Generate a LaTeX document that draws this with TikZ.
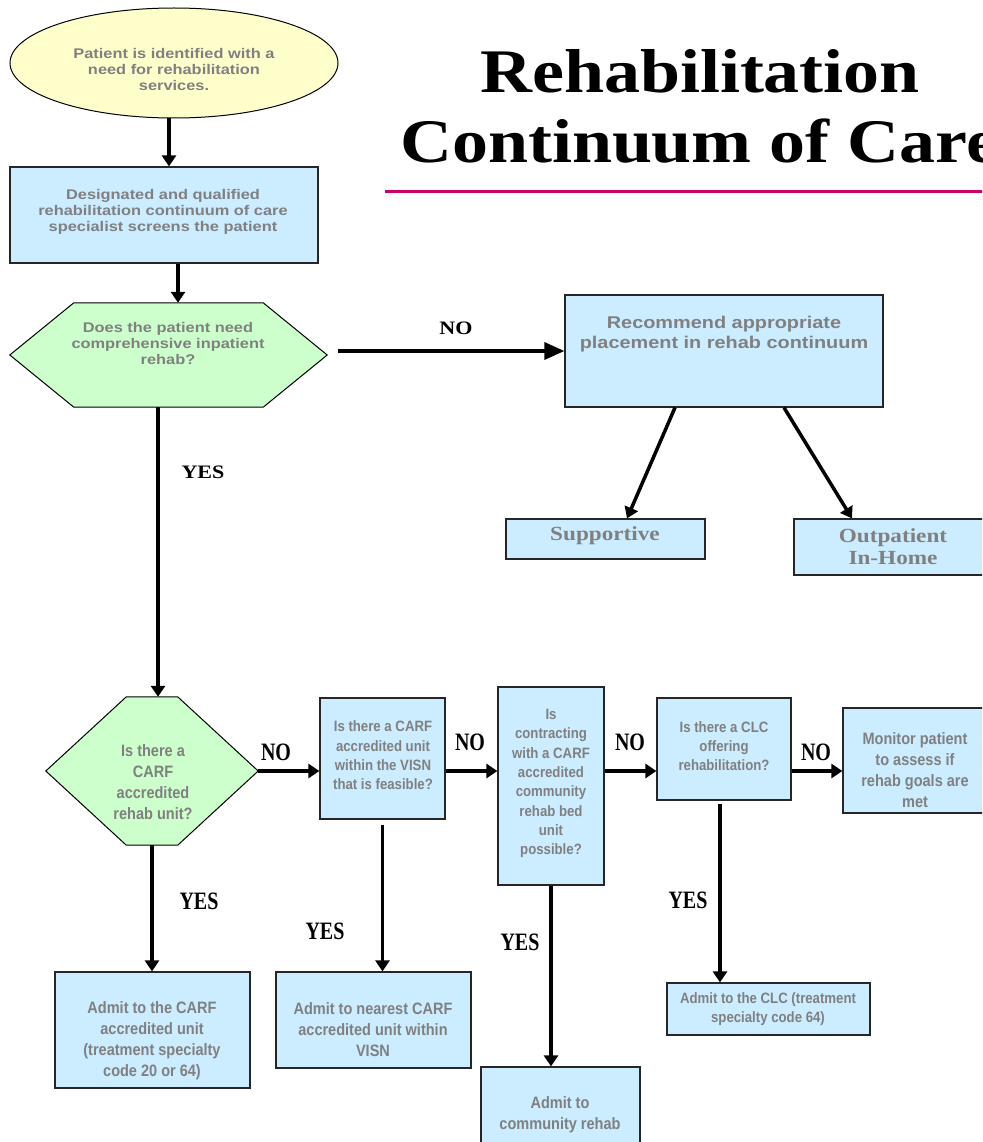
\documentclass[tikz,border=0pt]{standalone}
\usepackage{fontspec}
\usetikzlibrary{arrows.meta,shapes.geometric,calc}
\newfontfamily\wsans[FakeStretch=1.17]{Liberation Sans}
\newfontfamily\nsans[FakeStretch=0.88]{Liberation Sans}
\newfontfamily\wserif[FakeStretch=1.16]{Liberation Serif}
\newfontfamily\nserif[FakeStretch=0.8]{Liberation Serif}
\definecolor{boxblue}{HTML}{CCECFF}
\definecolor{hexgreen}{HTML}{CCFFCC}
\definecolor{ellyellow}{HTML}{FFFFCC}
\definecolor{txtgray}{HTML}{808080}
\definecolor{rulepink}{HTML}{CC0066}
\tikzset{
  box/.style={draw=black!85, line width=1.2pt, fill=boxblue, inner sep=0pt},
  shapebox/.style={inner sep=0pt},
  hexshape/.style={draw=black, line width=1pt, fill=hexgreen},
  txt/.style={inner sep=0pt, align=center, text=txtgray},
  toptxt/.style={txt, font=\wsans\bfseries\fontsize{14}{16}\selectfont},
  midtxt/.style={txt, font=\wsans\bfseries\fontsize{17}{20}\selectfont},
  serftxt/.style={txt, font=\wserif\bfseries\fontsize{20}{22}\selectfont},
  smalltxt/.style={txt, font=\nsans\bfseries\fontsize{15}{19.3}\selectfont},
  bigtxt/.style={txt, font=\nsans\bfseries\fontsize{16.5}{21}\selectfont},
  toplbl/.style={inner sep=0pt, font=\wserif\bfseries\fontsize{19}{22}\selectfont},
  botlbl/.style={inner sep=0pt, font=\nserif\bfseries\fontsize{25}{28}\selectfont},
  arr/.style={line width=3.5pt, -{Triangle[length=11pt,width=14pt]}},
  bigarr/.style={line width=3.5pt, -{Triangle[length=20pt,width=17pt]}},
}
\begin{document}
\begin{tikzpicture}[x=1pt,y=-1pt]
\useasboundingbox (0,0) rectangle (982,1142);
\clip (0,0) rectangle (982,1142);

% title
\node[anchor=base, inner sep=0pt, font=\wserif\bfseries\fontsize{62}{70}\selectfont] (t1) at (700,93) {Rehabilitation};
\node[anchor=base west, inner sep=0pt, font=\wserif\bfseries\fontsize{62}{70}\selectfont] (t2) at (400,163) {Continuum of Care};
\coordinate (rl) at (385,191);
\coordinate (rr) at (990,191);
\draw[rulepink, line width=3pt] (rl) -- (rr);

% shapes
\node[ellipse, draw=black, line width=1pt, fill=ellyellow, minimum width=328pt, minimum height=110pt, inner sep=0pt] (ell) at (174,63) {};
\node[box, minimum width=308pt, minimum height=96pt] (box1) at (164,215) {};
\node[shapebox, minimum width=317pt, minimum height=104pt] (hex1) at (168.5,355) {};
\draw[hexshape] (hex1.west) -- ([xshift=64pt]hex1.north west) -- ([xshift=-64pt]hex1.north east) -- (hex1.east) -- ([xshift=-64pt]hex1.south east) -- ([xshift=64pt]hex1.south west) -- cycle;
\node[box, minimum width=318pt, minimum height=112pt] (rec) at (724,351) {};
\node[box, minimum width=199pt, minimum height=40pt] (sup) at (605.5,539) {};
\node[box, minimum width=202pt, minimum height=56pt] (out) at (895,547) {};

\node[shapebox, minimum width=212pt, minimum height=148pt] (hex2) at (152,771) {};
\draw[hexshape] (hex2.west) -- ([xshift=80.5pt]hex2.north west) -- ([xshift=-80.5pt]hex2.north east) -- (hex2.east) -- ([xshift=-80.5pt]hex2.south east) -- ([xshift=80.5pt]hex2.south west) -- cycle;
\node[box, minimum width=125pt, minimum height=121pt] (visn) at (382.5,758.5) {};
\node[box, minimum width=106pt, minimum height=198pt] (con) at (551,786) {};
\node[box, minimum width=134pt, minimum height=102pt] (clc) at (724,749) {};
\node[box, minimum width=152pt, minimum height=105pt] (mon) at (919,760.5) {};

\node[box, minimum width=195pt, minimum height=116pt] (admA) at (152.5,1030) {};
\node[box, minimum width=195pt, minimum height=96pt] (admB) at (373.5,1020) {};
\node[box, minimum width=159pt, minimum height=83pt] (admC) at (560.5,1108.5) {};
\node[box, minimum width=203pt, minimum height=52pt] (admD) at (768.5,1009) {};

% texts
\node[toptxt] (ellt) at (174,69) {Patient is identified with a\\need for rehabilitation\\services.};
\node[toptxt] (box1t) at (163,212) {Designated and qualified\\rehabilitation continuum of care\\specialist screens the patient};
\node[toptxt] (hex1t) at (168,343) {Does the patient need\\comprehensive inpatient\\rehab?};
\node[midtxt] (rect) at (724,334) {Recommend appropriate\\placement in rehab continuum};
\node[serftxt] (supt) at (605,536) {Supportive};
\node[serftxt] (outt) at (893,547) {Outpatient\\In-Home};

\node[bigtxt] (hex2t) at (153,782) {Is there a\\CARF\\accredited\\rehab unit?};
\node[smalltxt] (visnt) at (383,755.5) {Is there a CARF\\accredited unit\\within the VISN\\that is feasible?};
\node[smalltxt] (cont) at (551,783.5) {Is\\contracting\\with a CARF\\accredited\\community\\rehab bed\\unit\\possible?};
\node[smalltxt] (clct) at (724,746) {Is there a CLC\\offering\\rehabilitation?};
\node[bigtxt] (mont) at (915,770.5) {Monitor patient\\to assess if\\rehab goals are\\met};
\node[bigtxt] (admAt) at (152,1041) {Admit to the CARF\\accredited unit\\(treatment specialty\\code 20 or 64)};
\node[bigtxt] (admBt) at (373,1030) {Admit to nearest CARF\\accredited unit within\\VISN};
\node[bigtxt] (admCt) at (560,1114.5) {Admit to\\community rehab};
\node[smalltxt] (admDt) at (768,1009) {Admit to the CLC (treatment\\specialty code 64)};

% connectors
\draw[arr] ([xshift=-5pt]ell.south) -- ([xshift=-5pt]ell.south |- box1.north);
\draw[arr] ([xshift=14pt]box1.south) -- ([xshift=14pt]box1.south |- hex1.north);
\draw[bigarr] ([xshift=11pt,yshift=4pt]hex1.east) -- (rec.west);
\draw[arr] ([xshift=-49pt]rec.south) -- ([xshift=21.5pt]sup.north);
\draw[arr] ([xshift=60pt]rec.south) -- ([xshift=-43pt]out.north);
\draw[arr] ([xshift=-10.5pt]hex1.south) -- ([xshift=-10.5pt]hex1.south |- hex2.north);

\draw[arr] (hex2.east) -- (hex2.east -| visn.west);
\draw[arr] (hex2.east -| visn.east) -- (hex2.east -| con.west);
\draw[arr] (hex2.east -| con.east) -- (hex2.east -| clc.west);
\draw[arr] (hex2.east -| clc.east) -- (hex2.east -| mon.west);

\draw[arr] (hex2.south) -- (hex2.south |- admA.north);
\draw[arr] ([yshift=-5pt]visn.south) -- (visn.south |- admB.north);
\draw[arr] (con.south) -- (con.south |- admC.north);
\draw[arr] ([xshift=-4pt,yshift=-3pt]clc.south) -- ([xshift=-4pt]clc.south |- admD.north);

% labels
\node[toplbl] (no0) at (456,328) {NO};
\node[toplbl] (yes0) at (203,472) {YES};
\node[botlbl] (no1) at (276,752) {NO};
\node[botlbl] (no2) at (470,742) {NO};
\node[botlbl] (no3) at (630,742) {NO};
\node[botlbl] (no4) at (816,752) {NO};
\node[botlbl] (yes1) at (199,901) {YES};
\node[botlbl] (yes2) at (325,931) {YES};
\node[botlbl] (yes3) at (520,942) {YES};
\node[botlbl] (yes4) at (688,900) {YES};
\end{tikzpicture}
\end{document}
